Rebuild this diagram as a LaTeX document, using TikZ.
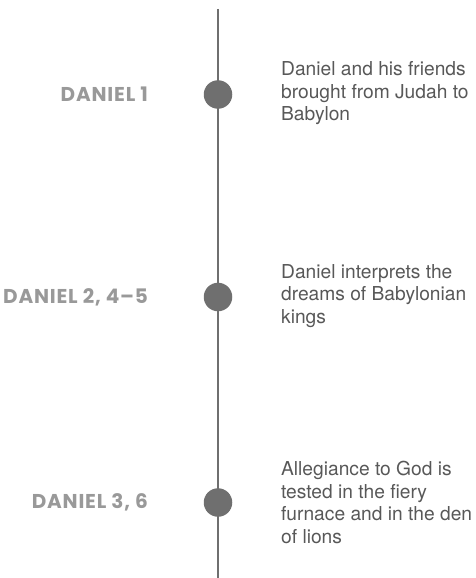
\documentclass[tikz,border=0pt]{standalone}
\usepackage{fontspec}
\setmainfont{TeX Gyre Heros}
\newfontfamily\chapfamily{Poppins}[LetterSpace=4]
\usepackage{xcolor}
\usepackage{tikz}
\usetikzlibrary{positioning}
\definecolor{SpineGrey}{HTML}{6F6F6F}
\definecolor{ChapGrey}{HTML}{999999}
\definecolor{EventGrey}{HTML}{585858}

\begin{document}
\begin{tikzpicture}[
		x=1pt,y=-1pt,
		node distance=55.5pt and 55.5pt,
		dot/.style={circle,fill=SpineGrey,minimum size=28.5pt,inner sep=0pt},
		chap/.style={font=\chapfamily\bfseries\fontsize{20}{24}\selectfont,text=ChapGrey,inner sep=0pt},
		event/.style={font=\fontsize{19.2}{22.5}\selectfont,text=EventGrey,align=left,inner sep=0pt},
		spine/.style={SpineGrey,line width=2pt}
	]
	\useasboundingbox (0,0) rectangle (475,578);
	\coordinate (top) at (218,9);
	\coordinate (bot) at (218,578);
	\draw[spine] (top)--(bot);
	% chapters along the line
	\node[dot] (d1) at (218,94.5) {};
	\node[dot] (d2) at (218,297) {};
	\node[dot] (d3) at (218,502.5) {};
	\node[chap,left=of d1] (c1) {DANIEL 1};
	\node[chap,left=of d2] (c2) {DANIEL 2, 4–5};
	\node[chap,left=of d3] (c3) {DANIEL 3, 6};
	\node[event,right=48.5pt of d1,yshift=1pt] (e1) {Daniel and his friends\\brought from Judah to\\Babylon};
	\node[event,right=48.5pt of d2,yshift=1pt] (e2) {Daniel interprets the\\dreams of Babylonian\\kings};
	\node[event,right=48.5pt of d3] (e3) {Allegiance to God is\\tested in the fiery\\furnace and in the den\\of lions};
\end{tikzpicture}
\end{document}
